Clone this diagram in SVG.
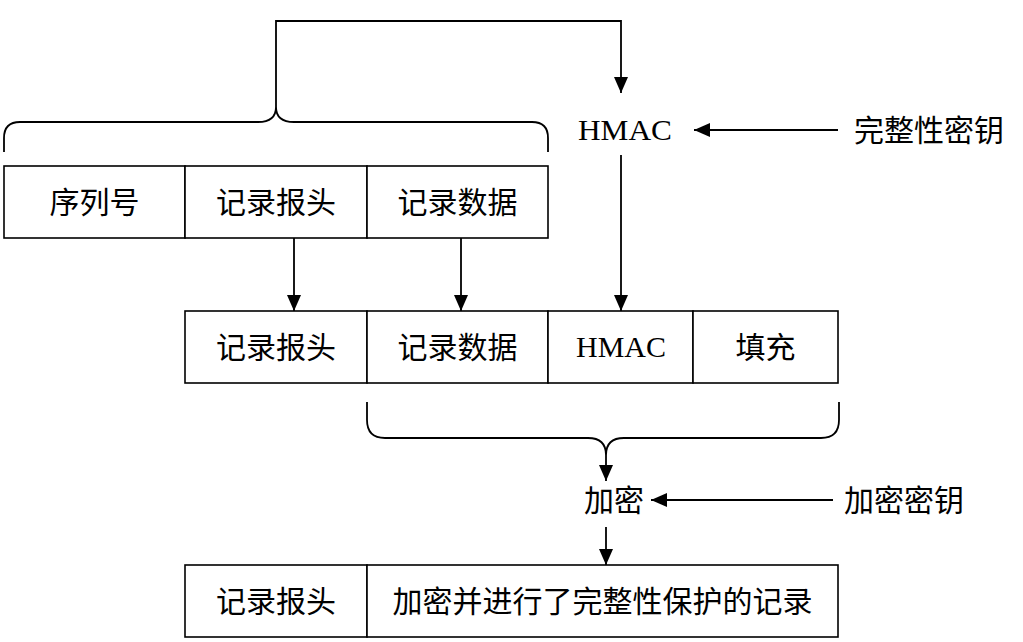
<svg xmlns="http://www.w3.org/2000/svg" width="1023" height="642" viewBox="0 0 1023 642">
<defs>
<marker id="arr" markerWidth="16" markerHeight="14" refX="16" refY="7" viewBox="0 0 16 14" markerUnits="userSpaceOnUse" orient="auto">
<path d="M0,0 L16,7 L0,14 Z" fill="#000"/>
</marker>
<style>
.box{fill:#fff;stroke:#000;stroke-width:1.6}
.cn{font-family:"Noto Sans CJK SC","Noto Sans",sans-serif;font-size:30px;fill:#000;text-anchor:middle;dominant-baseline:central}
.en{font-family:"Liberation Serif",serif;font-size:30px;fill:#000;text-anchor:middle;dominant-baseline:central}
.ln{fill:none;stroke:#000;stroke-width:1.8}
</style>
</defs>
<rect width="1023" height="642" fill="#fff"/>
<g id="row1">
<g id="n-seq"><rect class="box" x="4" y="166" width="181" height="72"/><text class="cn" x="94.5" y="200">序列号</text></g>
<g id="n-hdr1"><rect class="box" x="185" y="166" width="182" height="72"/><text class="cn" x="276" y="200">记录报头</text></g>
<g id="n-data1"><rect class="box" x="367" y="166" width="181" height="72"/><text class="cn" x="457.5" y="200">记录数据</text></g>
</g>
<g id="row2">
<g id="n-hdr2"><rect class="box" x="185" y="311" width="182" height="72"/><text class="cn" x="276" y="345">记录报头</text></g>
<g id="n-data2"><rect class="box" x="367" y="311" width="181" height="72"/><text class="cn" x="457.5" y="345">记录数据</text></g>
<g id="n-hmac2"><rect class="box" x="548" y="311" width="145" height="72"/><text class="en" x="621" y="346">HMAC</text></g>
<g id="n-pad"><rect class="box" x="693" y="311" width="145" height="72"/><text class="cn" x="765.5" y="345">填充</text></g>
</g>
<g id="row3">
<g id="n-hdr3"><rect class="box" x="185" y="565" width="182" height="72"/><text class="cn" x="276" y="599">记录报头</text></g>
<g id="n-enc-rec"><rect class="box" x="367" y="565" width="471" height="72"/><text class="cn" x="602.5" y="599">加密并进行了完整性保护的记录</text></g>
</g>
<g id="n-hmac"><text class="en" x="625" y="129" textLength="94" lengthAdjust="spacingAndGlyphs">HMAC</text></g>
<g id="n-intkey"><text class="cn" x="929" y="128">完整性密钥</text></g>
<g id="n-enc"><text class="cn" x="614" y="498">加密</text></g>
<g id="n-enckey"><text class="cn" x="904" y="498">加密密钥</text></g>
<g id="connectors">
<path class="ln" d="M4,152 V138 Q4,122 20,122 H258 Q276,122 276,107 Q276,122 294,122 H532 Q548,122 548,138 V152"/>
<path class="ln" d="M276,107 V21 H621 V93" marker-end="url(#arr)"/>
<path class="ln" d="M838,130 H694" marker-end="url(#arr)"/>
<path class="ln" d="M621,155 V311" marker-end="url(#arr)"/>
<path class="ln" d="M294,238 V311" marker-end="url(#arr)"/>
<path class="ln" d="M461,238 V311" marker-end="url(#arr)"/>
<path class="ln" d="M367,402 V420 Q367,438 385,438 H588 Q606,438 606,455 Q606,438 624,438 H821 Q839,438 839,420 V402"/>
<path class="ln" d="M606,455 V481" marker-end="url(#arr)"/>
<path class="ln" d="M833,500 H651" marker-end="url(#arr)"/>
<path class="ln" d="M606,527 V565" marker-end="url(#arr)"/>
</g>
</svg>
